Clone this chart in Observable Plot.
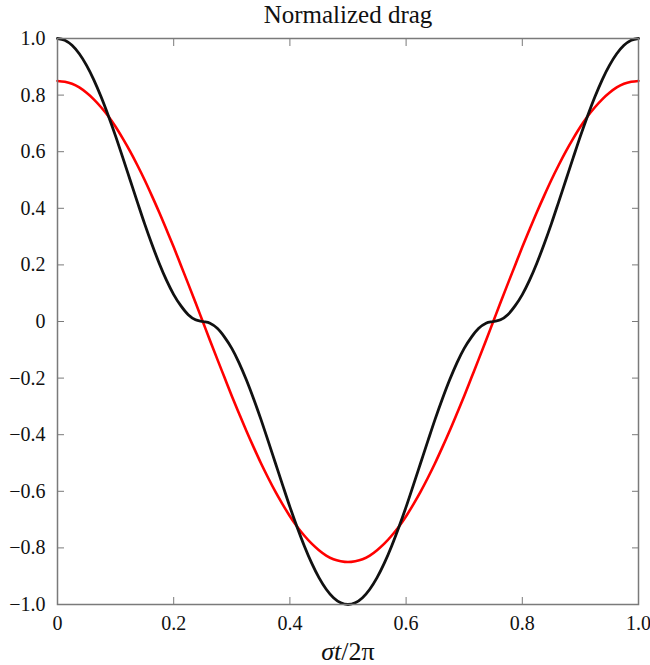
<!DOCTYPE html>
<html>
<head>
<meta charset="utf-8">
<script src="https://cdn.jsdelivr.net/npm/d3@7"></script>
<script src="https://cdn.jsdelivr.net/npm/@observablehq/plot@0.6"></script>
<style>
  body { margin: 0; background: #fff; position: relative; width: 650px; height: 665px; overflow: hidden; font-family: 'Liberation Serif', 'DejaVu Serif', serif; }
  #title { height: 28px; line-height: 30px; font-size: 25px; text-align: center; padding-left: 46px; color: #111; white-space: nowrap; }
  #xlabel { position: absolute; top: 639px; left: 0; width: 650px; height: 25px; padding-left: 46px; box-sizing: border-box; text-align: center; font-size: 26px; line-height: 25px; color: #111; }
  svg text { font-family: 'Liberation Serif', 'DejaVu Serif', serif !important; }
</style>
</head>
<body>
<div id="title">Normalized drag</div>
<div id="chart"></div>
<div id="xlabel"><i>σt</i>/2π</div>
<script>
// phase σt/2π
const phase = [0,0.0125,0.025,0.0375,0.05,0.0625,0.075,0.0875,0.1,0.1125,0.125,0.1375,0.15,0.1625,0.175,0.1875,0.2,0.2125,0.225,0.2375,0.25,0.2625,0.275,0.2875,0.3,0.3125,0.325,0.3375,0.35,0.3625,0.375,0.3875,0.4,0.4125,0.425,0.4375,0.45,0.4625,0.475,0.4875,0.5,0.5125,0.525,0.5375,0.55,0.5625,0.575,0.5875,0.6,0.6125,0.625,0.6375,0.65,0.6625,0.675,0.6875,0.7,0.7125,0.725,0.7375,0.75,0.7625,0.775,0.7875,0.8,0.8125,0.825,0.8375,0.85,0.8625,0.875,0.8875,0.9,0.9125,0.925,0.9375,0.95,0.9625,0.975,0.9875,1];
// black curve (nonlinear drag)
const dragBlack = [1.000,0.994,0.976,0.946,0.905,0.854,0.794,0.727,0.655,0.578,0.500,0.422,0.345,0.273,0.206,0.146,0.095,0.055,0.024,0.006,0.000,
  -0.006,-0.024,-0.055,-0.095,-0.146,-0.206,-0.273,-0.345,-0.422,-0.500,-0.578,-0.655,-0.727,-0.794,-0.854,-0.905,-0.946,-0.976,-0.994,-1.000,
  -0.994,-0.976,-0.946,-0.905,-0.854,-0.794,-0.727,-0.655,-0.578,-0.500,-0.422,-0.345,-0.273,-0.206,-0.146,-0.095,-0.055,-0.024,-0.006,0.000,
  0.006,0.024,0.055,0.095,0.146,0.206,0.273,0.345,0.422,0.500,0.578,0.655,0.727,0.794,0.854,0.905,0.946,0.976,0.994,1.000];
// red curve (linearized drag)
const dragRed = [0.850,0.847,0.840,0.827,0.808,0.785,0.757,0.725,0.688,0.646,0.601,0.552,0.500,0.444,0.386,0.325,0.263,0.198,0.133,0.067,0.000,
  -0.067,-0.133,-0.198,-0.263,-0.325,-0.386,-0.444,-0.500,-0.552,-0.601,-0.646,-0.688,-0.725,-0.757,-0.785,-0.808,-0.827,-0.840,-0.847,-0.850,
  -0.847,-0.840,-0.827,-0.808,-0.785,-0.757,-0.725,-0.688,-0.646,-0.601,-0.552,-0.500,-0.444,-0.386,-0.325,-0.263,-0.198,-0.133,-0.067,0.000,
  0.067,0.133,0.198,0.263,0.325,0.386,0.444,0.500,0.552,0.601,0.646,0.688,0.725,0.757,0.785,0.808,0.827,0.840,0.847,0.850];
const xTicks = [0,0.2,0.4,0.6,0.8,1.0];
const xTickLabels = ["0","0.2","0.4","0.6","0.8","1.0"];
const yTicks = [1.0,0.8,0.6,0.4,0.2,0,-0.2,-0.4,-0.6,-0.8,-1.0];
const yTickLabels = ["1.0","0.8","0.6","0.4","0.2","0","\u22120.2","\u22120.4","\u22120.6","\u22120.8","\u22121.0"];

const black = phase.map((x, i) => ({x, y: dragBlack[i]}));
const red = phase.map((x, i) => ({x, y: dragRed[i]}));
const xFmt = d => xTickLabels[xTicks.findIndex(t => Math.abs(t - d) < 1e-9)];
const yFmt = d => yTickLabels[yTicks.findIndex(t => Math.abs(t - d) < 1e-9)];
const serif = "'Liberation Serif', 'DejaVu Serif', serif";

const plot = Plot.plot({
  width: 650,
  height: 610,
  marginLeft: 57,
  marginRight: 12,
  marginTop: 10,
  marginBottom: 34,
  style: {fontFamily: serif, fontSize: "20px", color: "#111", background: "#fff"},
  x: {domain: [0, 1]},
  y: {domain: [-1, 1]},
  marks: [
    Plot.line(red, {x: "x", y: "y", stroke: "#ff0000", strokeWidth: 2.6, curve: "monotone-x"}),
    Plot.line(black, {x: "x", y: "y", stroke: "#111", strokeWidth: 2.8, curve: "monotone-x"}),
    Plot.frame({stroke: "#7a7a7a", strokeWidth: 1.5}),
    Plot.axisX(xTicks, {anchor: "bottom", tickSize: 0, tickPadding: 11, tickFormat: xFmt, label: null, fontSize: 20, fontFamily: serif}),
    Plot.axisY(yTicks, {anchor: "left", tickSize: 0, tickPadding: 12, tickFormat: yFmt, label: null, fontSize: 20, fontFamily: serif}),
    Plot.axisX(xTicks, {anchor: "bottom", tickSize: -7, text: null, label: null, stroke: "#7a7a7a"}),
    Plot.axisX(xTicks, {anchor: "top", tickSize: -7, text: null, label: null, stroke: "#7a7a7a"}),
    Plot.axisY(yTicks, {anchor: "left", tickSize: -7, text: null, label: null, stroke: "#7a7a7a"}),
    Plot.axisY(yTicks, {anchor: "right", tickSize: -7, text: null, label: null, stroke: "#7a7a7a"})
  ]
});
document.getElementById("chart").appendChild(plot);
</script>
</body>
</html>
